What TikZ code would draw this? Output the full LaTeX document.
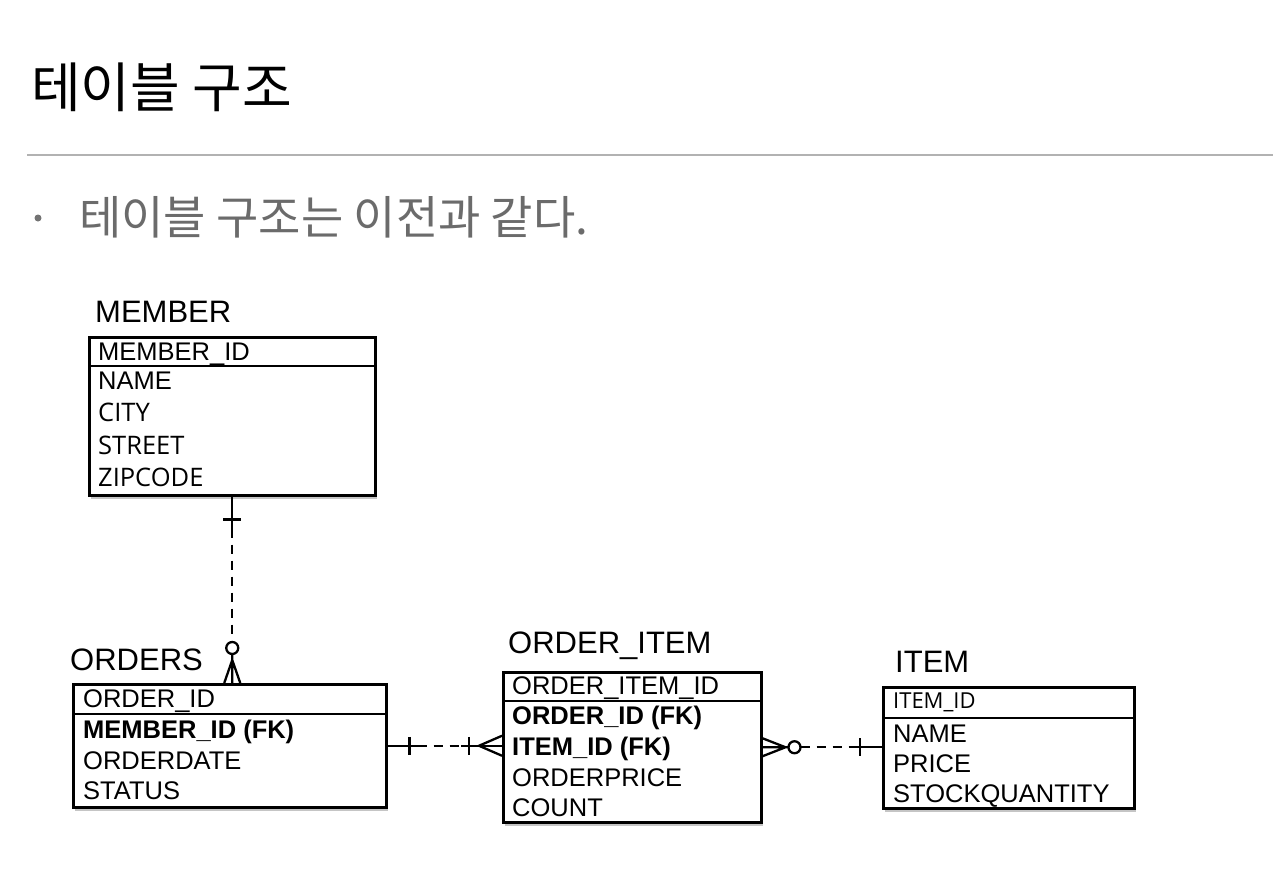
\documentclass[tikz,border=0pt]{standalone}
\usepackage{fontspec}
\setmainfont{Liberation Sans}
\newfontfamily\kr{Noto Sans CJK KR}
\newfontfamily\opensans{Open Sans}
\usepackage{tikz}
\usetikzlibrary{calc,shadows}

\begin{document}
\begin{tikzpicture}[x=1pt, y=-1pt,
    tbl/.style={draw, line width=2.5pt, fill=white, anchor=north west, inner sep=0pt,
      drop shadow={shadow xshift=1.5pt, shadow yshift=-4pt, opacity=0.45}},
    fld/.style={anchor=base west, inner sep=0pt, font=\fontsize{25.5}{30}\selectfont},
    tname/.style={anchor=base west, inner sep=0pt, font=\fontsize{31}{36}\selectfont},
    conn/.style={line width=2.3pt},
    rel/.style={conn, dash pattern=on 9pt off 7pt}]
  % page: 1280 x 868, y runs downwards in pixels
  \fill[white] (0,0) rectangle (1280,868);
  \useasboundingbox (0,0) rectangle (1280,868);
  % heading, rule and bullet line
  \node[anchor=base west, inner sep=0pt, font=\kr\fontsize{54}{60}\selectfont] (title) at (31,107) {테이블 구조};
  \draw[line width=2pt, black!30] (27,155) -- (1273,155);
  \fill[black!55] (38,218) circle[radius=3.5pt];
  \node[anchor=base west, inner sep=0pt, text=black!58, font=\kr\fontsize{46}{52}\selectfont] (intro) at (79,234) {테이블 구조는 이전과 같다.};

  % MEMBER
  \node[tname] (member-t) at (95,322) {MEMBER};
  \node[tbl, minimum width=286pt, minimum height=158pt] (member) at (88,336) {};
  \draw[conn] ([yshift=-30pt]member.north west) -- ([yshift=-30pt]member.north east);
  \foreach \txt/\y [count=\i] in {MEMBER\_ID/360, NAME/389, {\opensans CITY}/421, {\opensans STREET}/454, {\opensans ZIPCODE}/486}
    \node[fld] (member-\i) at (98,\y) {\txt};

  % ORDERS
  \node[tname] (orders-t) at (70,670) {ORDERS};
  \node[tbl, minimum width=313pt, minimum height=123pt] (orders) at (72,683) {};
  \draw[conn] ([yshift=-31pt]orders.north west) -- ([yshift=-31pt]orders.north east);
  \foreach \txt/\y [count=\i] in {ORDER\_ID/707, \textbf{MEMBER\_ID (FK)}/738, ORDERDATE/769, STATUS/799}
    \node[fld] (orders-\i) at (83,\y) {\txt};

  % ORDER_ITEM
  \node[tname] (oitem-t) at (508,653) {ORDER\_ITEM};
  \node[tbl, minimum width=258pt, minimum height=150pt] (oitem) at (502,671) {};
  \draw[conn] ([yshift=-30pt]oitem.north west) -- ([yshift=-30pt]oitem.north east);
  \foreach \txt/\y [count=\i] in {ORDER\_ITEM\_ID/694, \textbf{ORDER\_ID (FK)}/724, \textbf{ITEM\_ID (FK)}/755, ORDERPRICE/786, COUNT/816}
    \node[fld] (oitem-\i) at (512,\y) {\txt};

  % ITEM
  \node[tname] (item-t) at (895,672) {ITEM};
  \node[tbl, minimum width=251pt, minimum height=121pt] (item) at (882,686) {};
  \draw[conn] ([yshift=-32pt]item.north west) -- ([yshift=-32pt]item.north east);
  \node[fld, font=\opensans\fontsize{22}{26}\selectfont] (item-1) at (893,708) {ITEM\_ID};
  \foreach \txt/\y [count=\i from 2] in {NAME/742, PRICE/772, STOCKQUANTITY/802}
    \node[fld] (item-\i) at (893,\y) {\txt};

  % MEMBER 1 -- 0..n ORDERS
  \coordinate (mo) at (member.south |- orders.north);
  \draw[conn] (member.south) -- ++(0,32) coordinate (m1);
  \draw[conn] ([xshift=-9pt, yshift=-23pt]member.south) -- ++(18,0);
  \draw[rel] (m1) -- ([yshift=41pt]mo);
  \draw[conn] ([yshift=35pt]mo) circle[radius=6pt];
  \draw[conn] ([yshift=29pt]mo) -- ([yshift=23pt]mo)
    ([xshift=-8pt]mo) -- ([yshift=23pt]mo) -- ([xshift=8pt]mo)
    ([yshift=23pt]mo) -- (mo);

  % ORDERS 1 -- 1..n ORDER_ITEM
  \coordinate (oa) at (orders.east);
  \coordinate (ob) at (orders.east -| oitem.west);
  \draw[conn] (oa) -- ++(30,0) coordinate (o1);
  \draw[conn] ([xshift=22pt, yshift=9pt]oa) -- ++(0,18);
  \draw[rel] (o1) -- ([xshift=-41pt]ob) coordinate (o2);
  \draw[conn] (o2) -- (ob);
  \draw[conn] ([xshift=-33pt, yshift=9pt]ob) -- ++(0,18);
  \draw[conn] ([yshift=10pt]ob) -- ([xshift=-23pt]ob) -- ([yshift=-10pt]ob);

  % ORDER_ITEM 0..n -- 1 ITEM
  \coordinate (ia) at (oitem.east);
  \coordinate (ib) at (oitem.east -| item.west);
  \draw[conn] ([yshift=9pt]ia) -- ([xshift=23pt]ia) -- ([yshift=-9pt]ia)
    (ia) -- ([xshift=26pt]ia);
  \draw[conn] ([xshift=32pt]ia) circle[radius=6pt];
  \draw[rel] ([xshift=38pt]ia) -- ([xshift=-32pt]ib) coordinate (i2);
  \draw[conn] (i2) -- (ib);
  \draw[conn] ([xshift=-22pt, yshift=9pt]ib) -- ++(0,18);
\end{tikzpicture}
\end{document}
